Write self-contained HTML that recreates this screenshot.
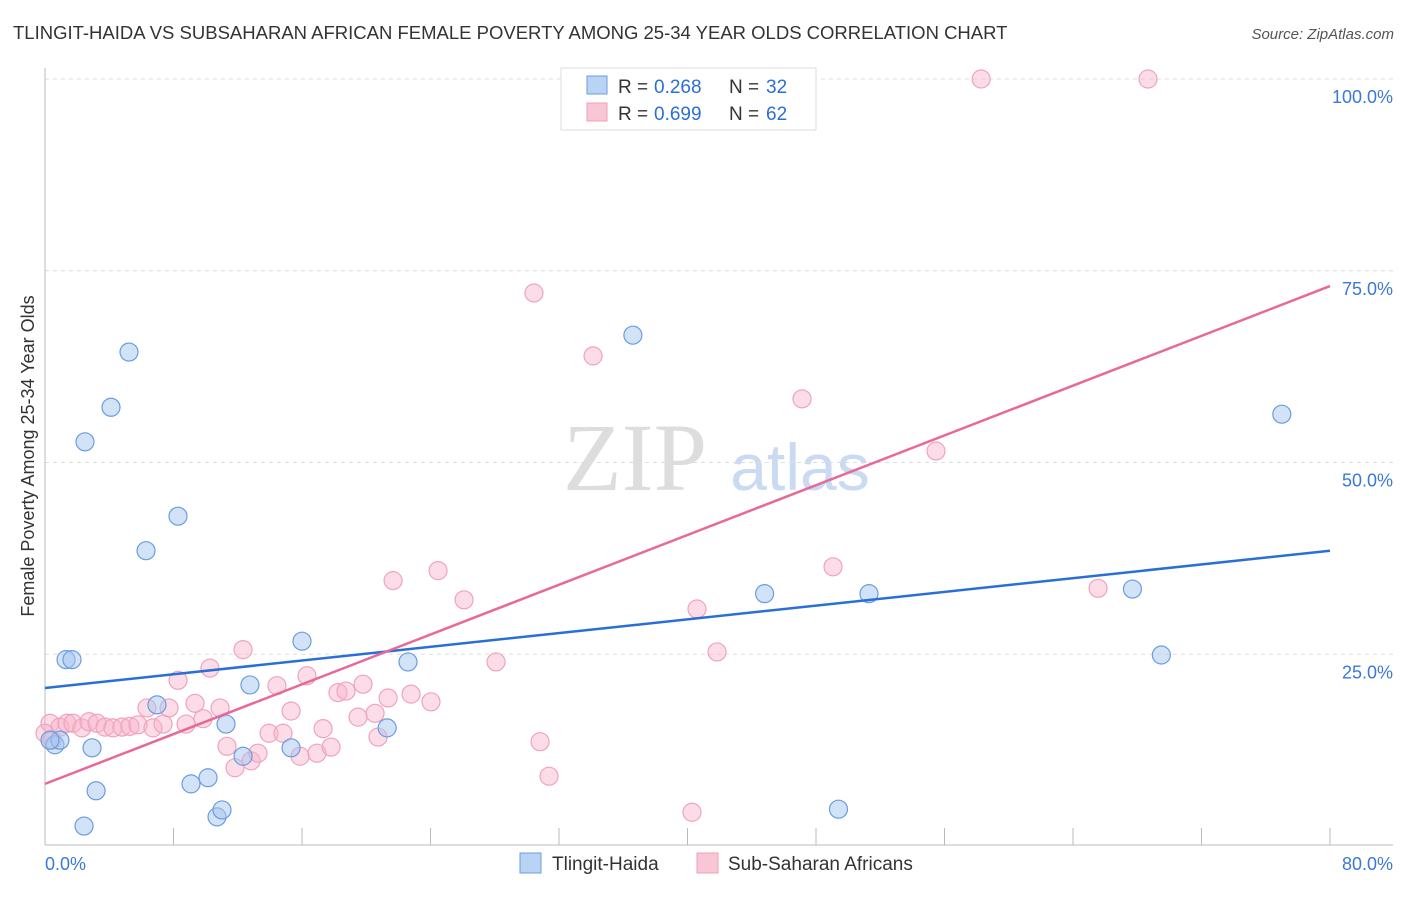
<!DOCTYPE html>
<html><head><meta charset="utf-8"><style>
body{margin:0;background:#fff;font-family:"Liberation Sans",sans-serif}
svg text{font-family:"Liberation Sans",sans-serif}
</style></head><body>
<svg id="chart" width="1406" height="892">
<text x="13" y="39" font-size="18.5" fill="#333">TLINGIT-HAIDA VS SUBSAHARAN AFRICAN FEMALE POVERTY AMONG 25-34 YEAR OLDS CORRELATION CHART</text>
<text x="1394" y="39" font-size="15" fill="#555" font-style="italic" text-anchor="end">Source: ZipAtlas.com</text>
<text x="635" y="490" font-size="96" fill="#ddd" font-family="Liberation Serif" text-anchor="middle" style="font-family:'Liberation Serif',serif">ZIP</text>
<text x="800" y="490" font-size="66" fill="#c9daf2" text-anchor="middle">atlas</text>
<g id="grid"></g><g id="axes"></g><g id="marks"></g>
<text transform="translate(34,456) rotate(-90)" font-size="18" fill="#333" text-anchor="middle">Female Poverty Among 25-34 Year Olds</text>
<g>
<rect x="561" y="68" width="255" height="62" fill="#fff" stroke="#ddd"/>
<rect x="587" y="76" width="20" height="18" fill="#b9d3f5" stroke="#6a9de0"/>
<rect x="587" y="103" width="20" height="18" fill="#f9c6d6" stroke="#f0a0b8"/>
<text x="618" y="93" font-size="19" fill="#333">R =</text>
<text x="654" y="93" font-size="19" fill="#2a6fd6">0.268</text>
<text x="729" y="93" font-size="19" fill="#333">N =</text>
<text x="766" y="93" font-size="19" fill="#2a6fd6">32</text>
<text x="618" y="120" font-size="19" fill="#333">R =</text>
<text x="654" y="120" font-size="19" fill="#2a6fd6">0.699</text>
<text x="729" y="120" font-size="19" fill="#333">N =</text>
<text x="766" y="120" font-size="19" fill="#2a6fd6">62</text>
</g>
<g>
<rect x="520" y="853" width="21" height="20" fill="#b9d3f5" stroke="#6a9de0"/>
<text x="552" y="870" font-size="19" fill="#333">Tlingit-Haida</text>
<rect x="697" y="853" width="21" height="20" fill="#f9c6d6" stroke="#f0a0b8"/>
<text x="728" y="870" font-size="19" fill="#333">Sub-Saharan Africans</text>
</g>
</svg>
<script>
const yTicks=[25,50,75,100];
const yTickLabels=["25.0%","50.0%","75.0%","100.0%"];
const xTicks=[0,8,16,24,32,40,48,56,64,72,80];
const blueX=[0.62,0.93,1.31,1.68,2.49,2.93,3.18,2.43,4.11,5.23,6.29,6.97,8.28,9.09,10.15,10.71,11.02,11.27,12.33,12.76,15.32,16.0,21.3,22.6,36.6,44.8,49.4,51.3,67.7,69.5,77.0,0.31];
const blueY=[13.2,13.8,24.3,24.3,52.7,12.8,7.2,2.6,57.2,64.4,38.5,18.4,43.0,8.1,8.9,3.8,4.7,15.9,11.7,21.0,12.8,26.7,15.4,24.0,66.6,32.9,4.8,32.9,33.5,24.9,56.3,13.8];
const pinkX=[0.31,0.93,1.37,1.74,2.30,2.74,3.24,3.74,4.23,4.79,5.29,5.79,6.35,6.72,7.35,7.72,8.28,8.78,9.34,9.84,10.27,10.90,11.33,11.83,12.33,12.83,13.26,13.95,14.44,14.82,15.32,15.88,16.31,16.93,17.31,17.81,18.24,18.74,19.49,19.80,20.55,20.73,21.36,22.79,24.03,28.08,21.67,24.47,26.09,30.44,34.12,30.82,31.38,40.28,40.59,41.84,47.13,49.06,55.47,58.28,68.67,65.56,0,0.44];
const pinkY=[16.0,15.5,16.0,16.0,15.4,16.2,16.0,15.5,15.4,15.5,15.6,15.8,18.0,15.4,15.9,18.0,21.6,15.9,18.6,16.6,23.2,18.0,13.0,10.2,25.6,11.1,12.1,14.7,20.9,14.7,17.6,11.7,22.2,12.1,15.3,12.9,20.0,20.2,16.8,21.1,17.3,14.2,19.3,19.8,18.8,24.0,34.6,35.9,32.1,72.1,63.9,13.6,9.1,4.4,30.9,25.3,58.3,36.4,51.5,100,100,33.6,14.7,13.8];
const blueTrend=[20.6,38.5];
const pinkTrend=[8.1,73.0];
const NS="http://www.w3.org/2000/svg";
const X=v=>45+v/80*1285, Y=v=>846-v/100*767;
function mk(t,a,p){const e=document.createElementNS(NS,t);for(const k in a)e.setAttribute(k,a[k]);p.appendChild(e);return e;}
const grid=document.getElementById('grid'),axes=document.getElementById('axes'),marks=document.getElementById('marks');
yTicks.forEach((t,i)=>{
 const l=mk('line',{x1:45,x2:1393,y1:Y(t),y2:Y(t),stroke:'#ddd','stroke-dasharray':'4,4'},grid);
 
 
 const tx=mk('text',{x:1393,y:Y(t)+24,'font-size':18,fill:'#3b78d8','text-anchor':'end'},axes);
 tx.textContent=yTickLabels[i];
 
 
});
mk('line',{x1:45,x2:45,y1:68,y2:845,stroke:'#bbb'},axes);
mk('line',{x1:45,x2:1393,y1:845,y2:845,stroke:'#bbb'},axes);
xTicks.forEach(t=>{
 const l=mk('line',{x1:X(t),x2:X(t),y1:828,y2:845,stroke:'#bbb'},axes);
 
 
});
const x0=mk('text',{x:45,y:870,'font-size':18,fill:'#3b78d8'},axes);x0.textContent='0.0%';


const x1=mk('text',{x:1393,y:870,'font-size':18,fill:'#3b78d8','text-anchor':'end'},axes);x1.textContent='80.0%';


pinkX.forEach((v,i)=>{
 const c=mk('circle',{cx:X(v),cy:Y(pinkY[i]),r:9,fill:'rgba(248,180,202,0.45)',stroke:'#f0a3bb','stroke-width':1.2},marks);
 
 
});
blueX.forEach((v,i)=>{
 const c=mk('circle',{cx:X(v),cy:Y(blueY[i]),r:9,fill:'rgba(165,198,240,0.5)',stroke:'#6a9de0','stroke-width':1.2},marks);
 
 
});
const bl=mk('line',{x1:X(0),y1:Y(blueTrend[0]),x2:X(80),y2:Y(blueTrend[1]),stroke:'#2a6fd6','stroke-width':2.5},marks);


const pl=mk('line',{x1:X(0),y1:Y(pinkTrend[0]),x2:X(80),y2:Y(pinkTrend[1]),stroke:'#e8689a','stroke-width':2.5},marks);


</script>
</body></html>
